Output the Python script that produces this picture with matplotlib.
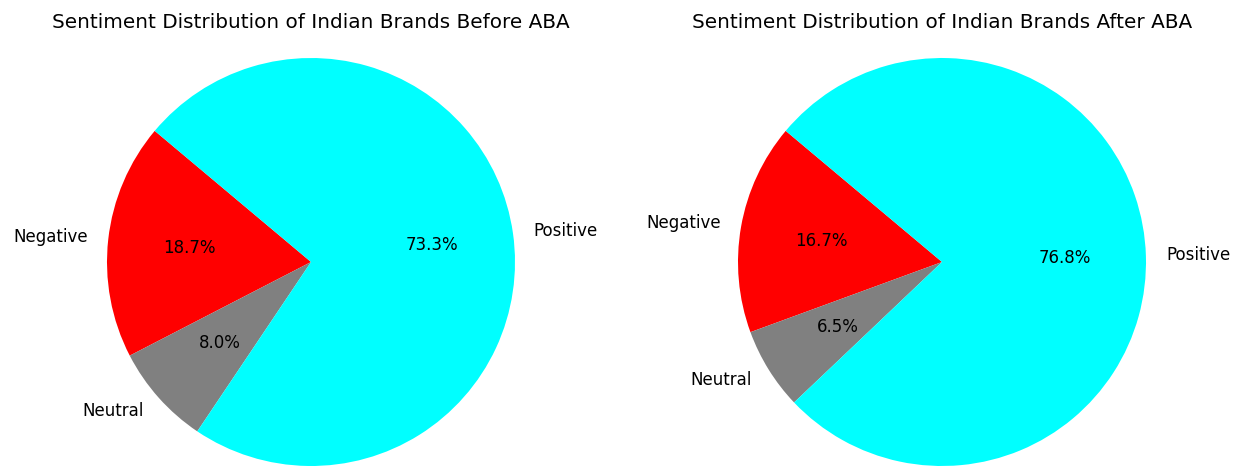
import matplotlib
matplotlib.use("Agg")
import matplotlib.pyplot as plt

labels = ["Negative", "Neutral", "Positive"]
before_pct = [18.7, 8.0, 73.3]
after_pct = [16.7, 6.5, 76.8]
colors = ["red", "gray", "cyan"]
titles = ["Sentiment Distribution of Indian Brands Before ABA",
          "Sentiment Distribution of Indian Brands After ABA"]

W, H = 1241, 466
fig = plt.figure(figsize=(W / 100, H / 100), dpi=100)

R = 204
centers = [(311, 262), (942, 262)]
for (cx, cy), vals, title in zip(centers, [before_pct, after_pct], titles):
    ax = fig.add_axes([(cx - R) / W, (H - cy - R) / H, 2 * R / W, 2 * R / H])
    ax.pie(vals, labels=labels, colors=colors, autopct="%1.1f%%",
           startangle=140, textprops={"fontsize": 12})
    ax.set_xlim(-1, 1)
    ax.set_ylim(-1, 1)
    ax.set_aspect("equal")
    ax.axis("off")
    fig.text(cx / W, (H - 22) / H, title, ha="center", va="center", fontsize=14.4)

fig.savefig("out.png", dpi=100)
